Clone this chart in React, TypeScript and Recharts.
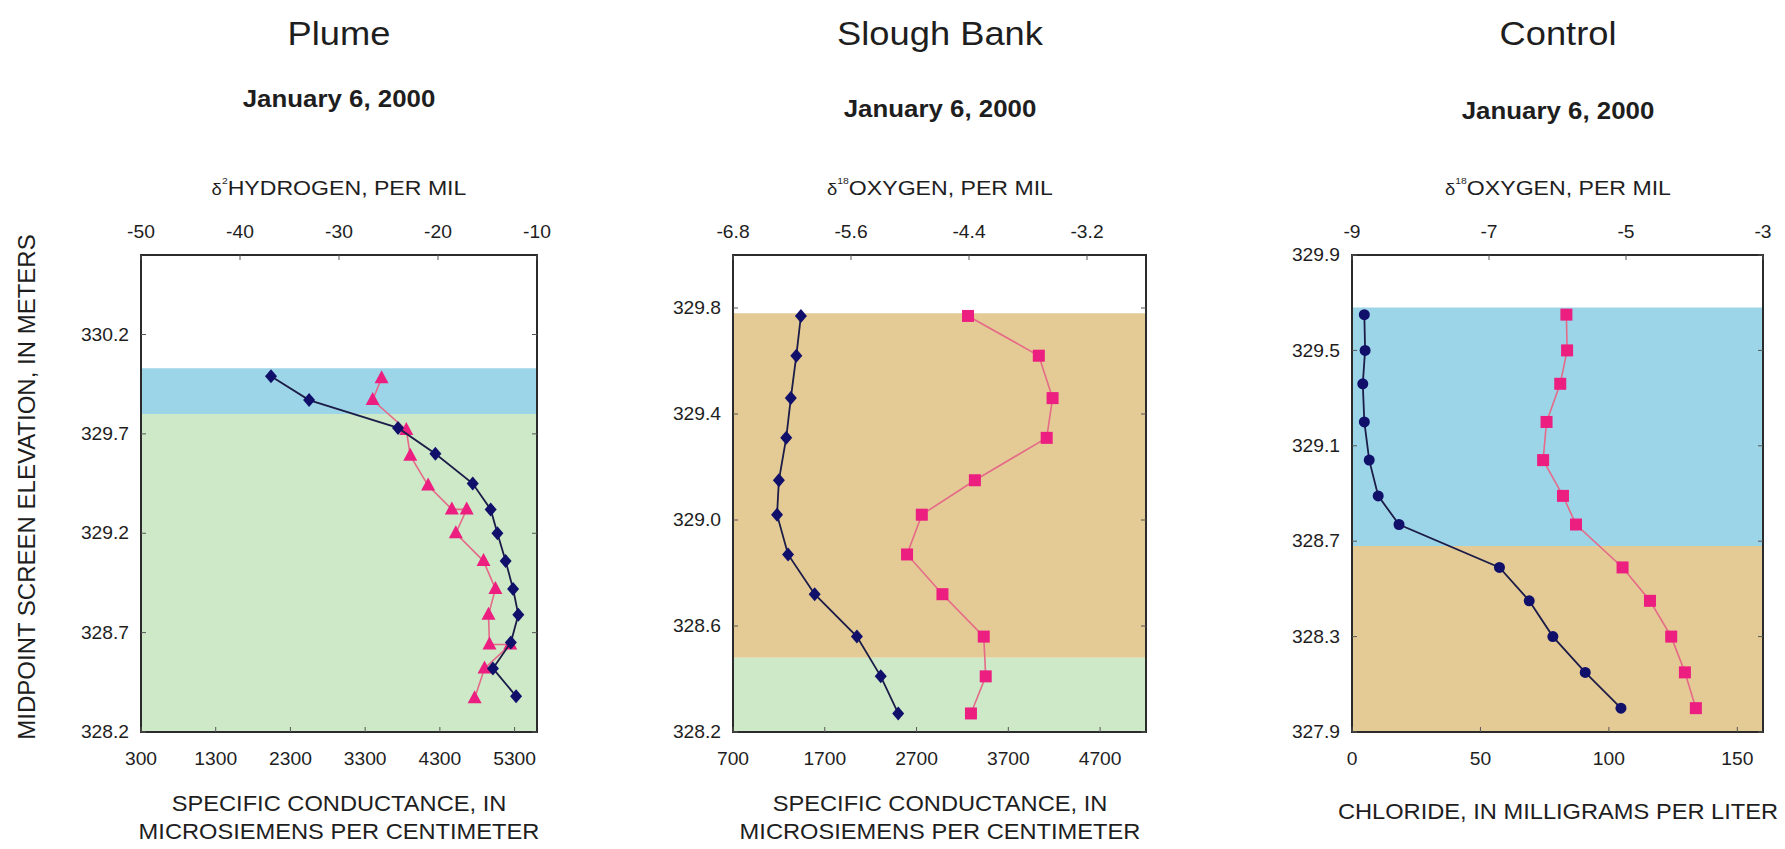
import React from 'react';
import { ScatterChart, Scatter, XAxis, YAxis, ReferenceArea } from 'recharts';

// ---- Plume ----
const plumeElevSC = [329.99, 329.87, 329.73, 329.6, 329.45, 329.32, 329.2, 329.06, 328.92, 328.79, 328.65, 328.52, 328.38];
const plumeSC = [2040, 2550, 3740, 4240, 4740, 4980, 5070, 5180, 5280, 5350, 5250, 5010, 5320];
const plumeElevH = [329.98, 329.87, 329.72, 329.59, 329.44, 329.32, 329.32, 329.2, 329.06, 328.92, 328.79, 328.64, 328.64, 328.52, 328.37];
const plumeD2H = [-25.7, -26.6, -23.2, -22.8, -21.0, -18.6, -17.1, -18.2, -15.4, -14.2, -14.9, -14.8, -12.7, -15.3, -16.3];
const plumeSCTicks = [300, 1300, 2300, 3300, 4300, 5300];
const plumeD2HTicks = [-50, -40, -30, -20, -10];
const plumeElevTicks = [328.2, 328.7, 329.2, 329.7, 330.2];

// ---- Slough Bank ----
const sloughElev = [329.77, 329.62, 329.46, 329.31, 329.15, 329.02, 328.87, 328.72, 328.56, 328.41, 328.27];
const sloughSC = [1440, 1390, 1330, 1280, 1200, 1180, 1300, 1590, 2050, 2310, 2500];
const sloughD18O = [-4.41, -3.69, -3.55, -3.61, -4.34, -4.88, -5.03, -4.67, -4.25, -4.23, -4.38];
const sloughSCTicks = [700, 1700, 2700, 3700, 4700];
const sloughD18OTicks = [-6.8, -5.6, -4.4, -3.2];
const sloughElevTicks = [328.2, 328.6, 329.0, 329.4, 329.8];

// ---- Control ----
const controlElev = [329.65, 329.5, 329.36, 329.2, 329.04, 328.89, 328.77, 328.59, 328.45, 328.3, 328.15, 328.0];
const controlCl = [4.8, 5.1, 4.2, 4.8, 6.7, 10.2, 18.3, 57.4, 69.0, 78.2, 90.8, 104.7];
const controlD18O = [-5.87, -5.86, -5.96, -6.16, -6.21, -5.92, -5.73, -5.05, -4.65, -4.34, -4.14, -3.98];
const controlClTicks = [0, 50, 100, 150];
const controlD18OTicks = [-9, -7, -5, -3];
const controlElevTicks = [327.9, 328.3, 328.7, 329.1, 329.5, 329.9];

const panelTitles = ['Plume', 'Slough Bank', 'Control'];
const dateLabel = 'January 6, 2000';

const FONT = "'Liberation Sans', Arial, Helvetica, sans-serif";
const TXT = '#1e1e1e';
const STRETCH = 1.1;
const NAVY = '#10106a';
const NAVY_LINE = '#1c1c48';
const PINK = '#ec1f80';
const PINK_LINE = '#e56a88';
const BLUE = '#9dd5e8';
const GREEN = '#cde9c8';
const TAN = '#e4ca95';

const YW = 80; // left axis width
const RW = 22; // right axis width
const TOPH = 50;
const PLOTH = 477;
const BOTH = 40;
const CH = TOPH + PLOTH + BOTH;
const CHART_TOP = 205;

const pair = (xs: number[], ys: number[]) => xs.map((x, i) => ({ x, y: ys[i] }));

const Diamond = (p: any) => (
  <path d={`M${p.cx},${p.cy - 7}L${p.cx + 6},${p.cy}L${p.cx},${p.cy + 7}L${p.cx - 6},${p.cy}Z`} fill={NAVY} />
);
const Triangle = (p: any) => (
  <path d={`M${p.cx},${p.cy - 8}L${p.cx + 7},${p.cy + 5}L${p.cx - 7},${p.cy + 5}Z`} fill={PINK} />
);
const Square = (p: any) => <rect x={p.cx - 6} y={p.cy - 6} width={12} height={12} fill={PINK} />;
const Dot = (p: any) => <circle cx={p.cx} cy={p.cy} r={5.5} fill={NAVY} />;

const tickText = (x: number, y: number, label: string, anchor: 'middle' | 'end') => (
  <g transform={`translate(${x},${y}) scale(${STRETCH},1)`}>
    <text x={0} y={0} textAnchor={anchor} dominantBaseline="central" fontSize={17.5} fill={TXT} fontFamily={FONT}>
      {label}
    </text>
  </g>
);

type Band = { y1: number; y2: number; fill: string };
type Series = { data: { x: number; y: number }[]; axis: 'top' | 'bottom'; shape: any; line: string; width: number };

function Panel(props: {
  plotLeft: number;
  plotW: number;
  bottomDomain: number[];
  bottomTicks: number[];
  topDomain: number[];
  topTicks: number[];
  topFmt: (v: number) => string;
  elevDomain: number[];
  elevTicks: number[];
  bands: Band[];
  series: Series[];
}) {
  const W = YW + props.plotW + RW;
  const tickLine = { stroke: '#555', strokeWidth: 1 };
  return (
    <div style={{ position: 'absolute', left: props.plotLeft - YW, top: CHART_TOP }}>
      <ScatterChart width={W} height={CH} margin={{ top: 0, right: 0, bottom: 0, left: 0 }}>
        <XAxis
          xAxisId="bottom"
          type="number"
          dataKey="x"
          orientation="bottom"
          domain={props.bottomDomain}
          ticks={props.bottomTicks}
          interval={0}
          allowDataOverflow
          height={BOTH}
          axisLine={false}
          tickLine={tickLine}
          tickSize={-5}
          tick={(p: any) => tickText(p.x, TOPH + PLOTH + 27, String(p.payload.value), 'middle')}
        />
        <XAxis
          xAxisId="top"
          type="number"
          dataKey="x"
          orientation="top"
          domain={props.topDomain}
          ticks={props.topTicks}
          interval={0}
          allowDataOverflow
          height={TOPH}
          axisLine={false}
          tickLine={tickLine}
          tickSize={-5}
          tick={(p: any) => tickText(p.x, TOPH - 23, props.topFmt(p.payload.value), 'middle')}
        />
        <YAxis
          yAxisId="left"
          type="number"
          dataKey="y"
          domain={props.elevDomain}
          ticks={props.elevTicks}
          interval={0}
          allowDataOverflow
          width={YW}
          axisLine={false}
          tickLine={tickLine}
          tickSize={-5}
          tick={(p: any) => tickText(YW - 12, p.y, p.payload.value.toFixed(1), 'end')}
        />
        <YAxis
          yAxisId="right"
          orientation="right"
          type="number"
          dataKey="y"
          domain={props.elevDomain}
          ticks={props.elevTicks}
          interval={0}
          allowDataOverflow
          width={RW}
          axisLine={false}
          tickLine={tickLine}
          tickSize={-5}
          tick={() => <g />}
        />
        {props.bands.map((b, i) => (
          <ReferenceArea
            key={'band' + i}
            xAxisId="bottom"
            yAxisId="left"
            y1={b.y1}
            y2={b.y2}
            fill={b.fill}
            fillOpacity={1}
            stroke="none"
          />
        ))}
        {props.series.map((s, i) => (
          <Scatter
            key={'s' + i}
            xAxisId={s.axis}
            yAxisId="left"
            data={s.data}
            shape={s.shape}
            line={{ stroke: s.line, strokeWidth: s.width }}
            lineType="joint"
            isAnimationActive={false}
          />
        ))}
        <ReferenceArea
          xAxisId="bottom"
          yAxisId="left"
          x1={props.bottomDomain[0]}
          x2={props.bottomDomain[1]}
          y1={props.elevDomain[0]}
          y2={props.elevDomain[1]}
          fill="none"
          fillOpacity={0}
          stroke="#2b2b2b"
          strokeWidth={2}
        />
      </ScatterChart>
    </div>
  );
}

function Txt(props: { x: number; y: number; size: number; bold?: boolean; children: React.ReactNode }) {
  return (
    <div
      style={{
        position: 'absolute',
        left: props.x,
        top: props.y,
        transform: `translate(-50%, -50%) scaleX(${STRETCH})`,
        fontFamily: FONT,
        fontSize: props.size,
        fontWeight: props.bold ? 700 : 400,
        color: TXT,
        whiteSpace: 'nowrap',
        lineHeight: 1,
      }}
    >
      {props.children}
    </div>
  );
}

const Delta = ({ sup }: { sup: string }) => (
  <>
    <span style={{ fontSize: '0.8em' }}>δ</span>
    <sup style={{ fontSize: '0.45em', verticalAlign: 'top', position: 'relative', top: '-0.1em' }}>{sup}</sup>
  </>
);

export default function App() {
  const centers = [141 + 396 / 2, 733 + 413 / 2, 1352 + 411 / 2];
  const dateY = [100, 110, 112];
  return (
    <div style={{ position: 'absolute', left: 0, top: 0, width: 1785, height: 849, background: '#fff', overflow: 'hidden' }}>
      {panelTitles.map((t, i) => (
        <Txt key={t} x={centers[i]} y={33} size={33}>
          {t}
        </Txt>
      ))}
      {centers.map((c, i) => (
        <Txt key={'d' + i} x={c} y={dateY[i]} size={23.5} bold>
          {dateLabel}
        </Txt>
      ))}
      <Txt x={centers[0]} y={188} size={21}>
        <Delta sup="2" />
        HYDROGEN, PER MIL
      </Txt>
      <Txt x={centers[1]} y={188} size={21}>
        <Delta sup="18" />
        OXYGEN, PER MIL
      </Txt>
      <Txt x={centers[2]} y={188} size={21}>
        <Delta sup="18" />
        OXYGEN, PER MIL
      </Txt>
      <Txt x={centers[0]} y={805} size={21.5}>SPECIFIC CONDUCTANCE, IN</Txt>
      <Txt x={centers[0]} y={833} size={21.5}>MICROSIEMENS PER CENTIMETER</Txt>
      <Txt x={centers[1]} y={805} size={21.5}>SPECIFIC CONDUCTANCE, IN</Txt>
      <Txt x={centers[1]} y={833} size={21.5}>MICROSIEMENS PER CENTIMETER</Txt>
      <Txt x={centers[2]} y={813} size={21.5}>CHLORIDE, IN MILLIGRAMS PER LITER</Txt>
      <div
        style={{
          position: 'absolute',
          left: 27,
          top: 487,
          transform: 'translate(-50%, -50%) rotate(-90deg)',
          fontFamily: FONT,
          fontSize: 24,
          color: TXT,
          whiteSpace: 'nowrap',
          lineHeight: 1,
        }}
      >
        MIDPOINT SCREEN ELEVATION, IN METERS
      </div>

      <Panel
        plotLeft={141}
        plotW={396}
        bottomDomain={[300, 5600]}
        bottomTicks={plumeSCTicks}
        topDomain={[-50, -10]}
        topTicks={plumeD2HTicks}
        topFmt={(v) => String(v)}
        elevDomain={[328.2, 330.6]}
        elevTicks={plumeElevTicks}
        bands={[
          { y1: 329.8, y2: 330.03, fill: BLUE },
          { y1: 328.2, y2: 329.8, fill: GREEN },
        ]}
        series={[
          { data: pair(plumeD2H, plumeElevH), axis: 'top', shape: Triangle, line: PINK_LINE, width: 1.6 },
          { data: pair(plumeSC, plumeElevSC), axis: 'bottom', shape: Diamond, line: NAVY_LINE, width: 1.8 },
        ]}
      />
      <Panel
        plotLeft={733}
        plotW={413}
        bottomDomain={[700, 5200]}
        bottomTicks={sloughSCTicks}
        topDomain={[-6.8, -2.6]}
        topTicks={sloughD18OTicks}
        topFmt={(v) => v.toFixed(1)}
        elevDomain={[328.2, 330.0]}
        elevTicks={sloughElevTicks}
        bands={[
          { y1: 328.48, y2: 329.78, fill: TAN },
          { y1: 328.2, y2: 328.48, fill: GREEN },
        ]}
        series={[
          { data: pair(sloughD18O, sloughElev), axis: 'top', shape: Square, line: PINK_LINE, width: 1.6 },
          { data: pair(sloughSC, sloughElev), axis: 'bottom', shape: Diamond, line: NAVY_LINE, width: 1.8 },
        ]}
      />
      <Panel
        plotLeft={1352}
        plotW={411}
        bottomDomain={[0, 160]}
        bottomTicks={controlClTicks}
        topDomain={[-9, -3]}
        topTicks={controlD18OTicks}
        topFmt={(v) => String(v)}
        elevDomain={[327.9, 329.9]}
        elevTicks={controlElevTicks}
        bands={[
          { y1: 328.68, y2: 329.68, fill: BLUE },
          { y1: 327.9, y2: 328.68, fill: TAN },
        ]}
        series={[
          { data: pair(controlD18O, controlElev), axis: 'top', shape: Square, line: PINK_LINE, width: 1.6 },
          { data: pair(controlCl, controlElev), axis: 'bottom', shape: Dot, line: NAVY_LINE, width: 1.8 },
        ]}
      />
    </div>
  );
}
